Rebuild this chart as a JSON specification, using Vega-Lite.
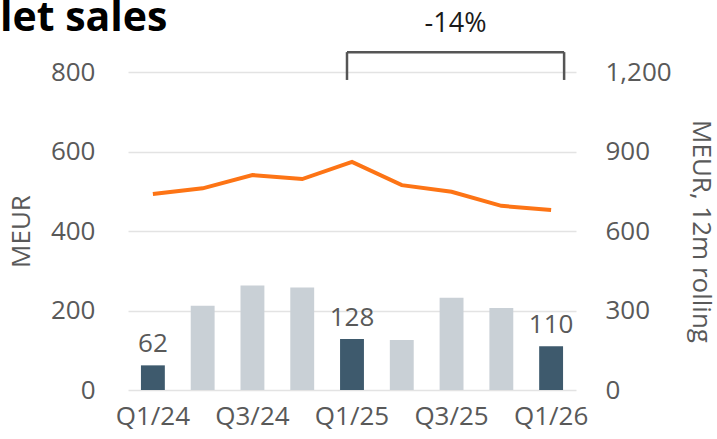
{
  "$schema": "https://vega.github.io/schema/vega-lite/v6.json",
  "width": 448,
  "height": 318,
  "autosize": {"type": "none"},
  "padding": {"left": 128, "top": 72, "right": 141, "bottom": 49},
  "background": "white",
  "title": {"text": "let sales", "anchor": "start", "frame": "group", "dx": -128, "dy": 62, "fontSize": 41, "font": "Open Sans", "fontWeight": "bold", "color": "#000000", "offset": 0, "baseline": "alphabetic"},
  "config": {
    "view": {"stroke": null},
    "font": "Open Sans",
    "axis": {"labelFont": "Open Sans", "titleFont": "Open Sans", "labelColor": "#595959", "titleColor": "#595959", "labelFontSize": 26, "titleFontSize": 26, "titleFontWeight": "normal", "ticks": false, "domain": false, "gridColor": "#e3e3e3", "gridWidth": 1.6}
  },
  "datasets": {
    "quarters": [
      {"q": "Q1/24", "sales": 62, "rolling": 740, "hl": "yes"},
      {"q": "Q2/24", "sales": 212, "rolling": 761, "hl": "no"},
      {"q": "Q3/24", "sales": 263, "rolling": 811, "hl": "no"},
      {"q": "Q4/24", "sales": 258, "rolling": 796, "hl": "no"},
      {"q": "Q1/25", "sales": 128, "rolling": 861, "hl": "yes"},
      {"q": "Q2/25", "sales": 126, "rolling": 773, "hl": "no"},
      {"q": "Q3/25", "sales": 232, "rolling": 748, "hl": "no"},
      {"q": "Q4/25", "sales": 206, "rolling": 695, "hl": "no"},
      {"q": "Q1/26", "sales": 110, "rolling": 679, "hl": "yes"}
    ],
    "bracket": [
      {"from": "Q1/25", "to": "Q1/26", "low": 780, "high": 850, "mid": "Q3/25", "labely": 921, "label": "-14%"}
    ]
  },
  "layer": [
    {
      "layer": [
        {
          "data": {"name": "quarters"},
          "mark": {"type": "bar"},
          "encoding": {
            "x": {"field": "q", "type": "ordinal", "sort": null,
                  "scale": {"domain": ["Q1/24", "Q2/24", "Q3/24", "Q4/24", "Q1/25", "Q2/25", "Q3/25", "Q4/25", "Q1/26"], "paddingInner": 0.52, "paddingOuter": 0.26},
                  "axis": {"values": ["Q1/24", "Q3/24", "Q1/25", "Q3/25", "Q1/26"], "labelAngle": 0, "labelPadding": 13, "title": null, "grid": false}},
            "y": {"field": "sales", "type": "quantitative", "scale": {"domain": [0, 800]},
                  "axis": {"values": [0, 200, 400, 600, 800], "labelPadding": 33, "title": "MEUR", "titlePadding": 16, "grid": true}},
            "color": {"field": "hl", "type": "nominal", "scale": {"domain": ["yes", "no"], "range": ["#3e5a6d", "#c9d0d6"]}, "legend": null}
          }
        },
        {
          "data": {"name": "quarters"},
          "transform": [{"filter": "datum.hl == 'yes'"}],
          "mark": {"type": "text", "baseline": "bottom", "dy": -8, "fontSize": 26, "color": "#595959", "font": "Open Sans"},
          "encoding": {
            "x": {"field": "q", "type": "ordinal", "sort": null},
            "y": {"field": "sales", "type": "quantitative"},
            "text": {"field": "sales", "type": "quantitative"}
          }
        },
        {
          "data": {"name": "bracket"},
          "mark": {"type": "rule", "color": "#555555", "strokeWidth": 2.5, "xOffset": -5, "x2Offset": 13},
          "encoding": {
            "x": {"field": "from", "type": "ordinal"},
            "x2": {"field": "to"},
            "y": {"field": "high", "type": "quantitative"}
          }
        },
        {
          "data": {"name": "bracket"},
          "mark": {"type": "rule", "color": "#555555", "strokeWidth": 2.5, "xOffset": -5},
          "encoding": {
            "x": {"field": "from", "type": "ordinal"},
            "y": {"field": "low", "type": "quantitative"},
            "y2": {"field": "high"}
          }
        },
        {
          "data": {"name": "bracket"},
          "mark": {"type": "rule", "color": "#555555", "strokeWidth": 2.5, "xOffset": 13},
          "encoding": {
            "x": {"field": "to", "type": "ordinal"},
            "y": {"field": "low", "type": "quantitative"},
            "y2": {"field": "high"}
          }
        },
        {
          "data": {"name": "bracket"},
          "mark": {"type": "text", "baseline": "middle", "dx": 4, "fontSize": 27, "color": "#1a1a1a", "font": "Open Sans"},
          "encoding": {
            "x": {"field": "mid", "type": "ordinal"},
            "y": {"field": "labely", "type": "quantitative"},
            "text": {"field": "label", "type": "nominal"}
          }
        }
      ]
    },
    {
      "data": {"name": "quarters"},
      "mark": {"type": "line", "color": "#fd7415", "strokeWidth": 4},
      "encoding": {
        "x": {"field": "q", "type": "ordinal", "sort": null},
        "y": {"field": "rolling", "type": "quantitative", "scale": {"domain": [0, 1200]},
              "axis": {"orient": "right", "values": [0, 300, 600, 900, 1200], "format": ",d", "labelPadding": 29, "grid": false, "title": "MEUR, 12m rolling", "titlePadding": 16}}
      }
    }
  ],
  "resolve": {"scale": {"y": "independent"}}
}
